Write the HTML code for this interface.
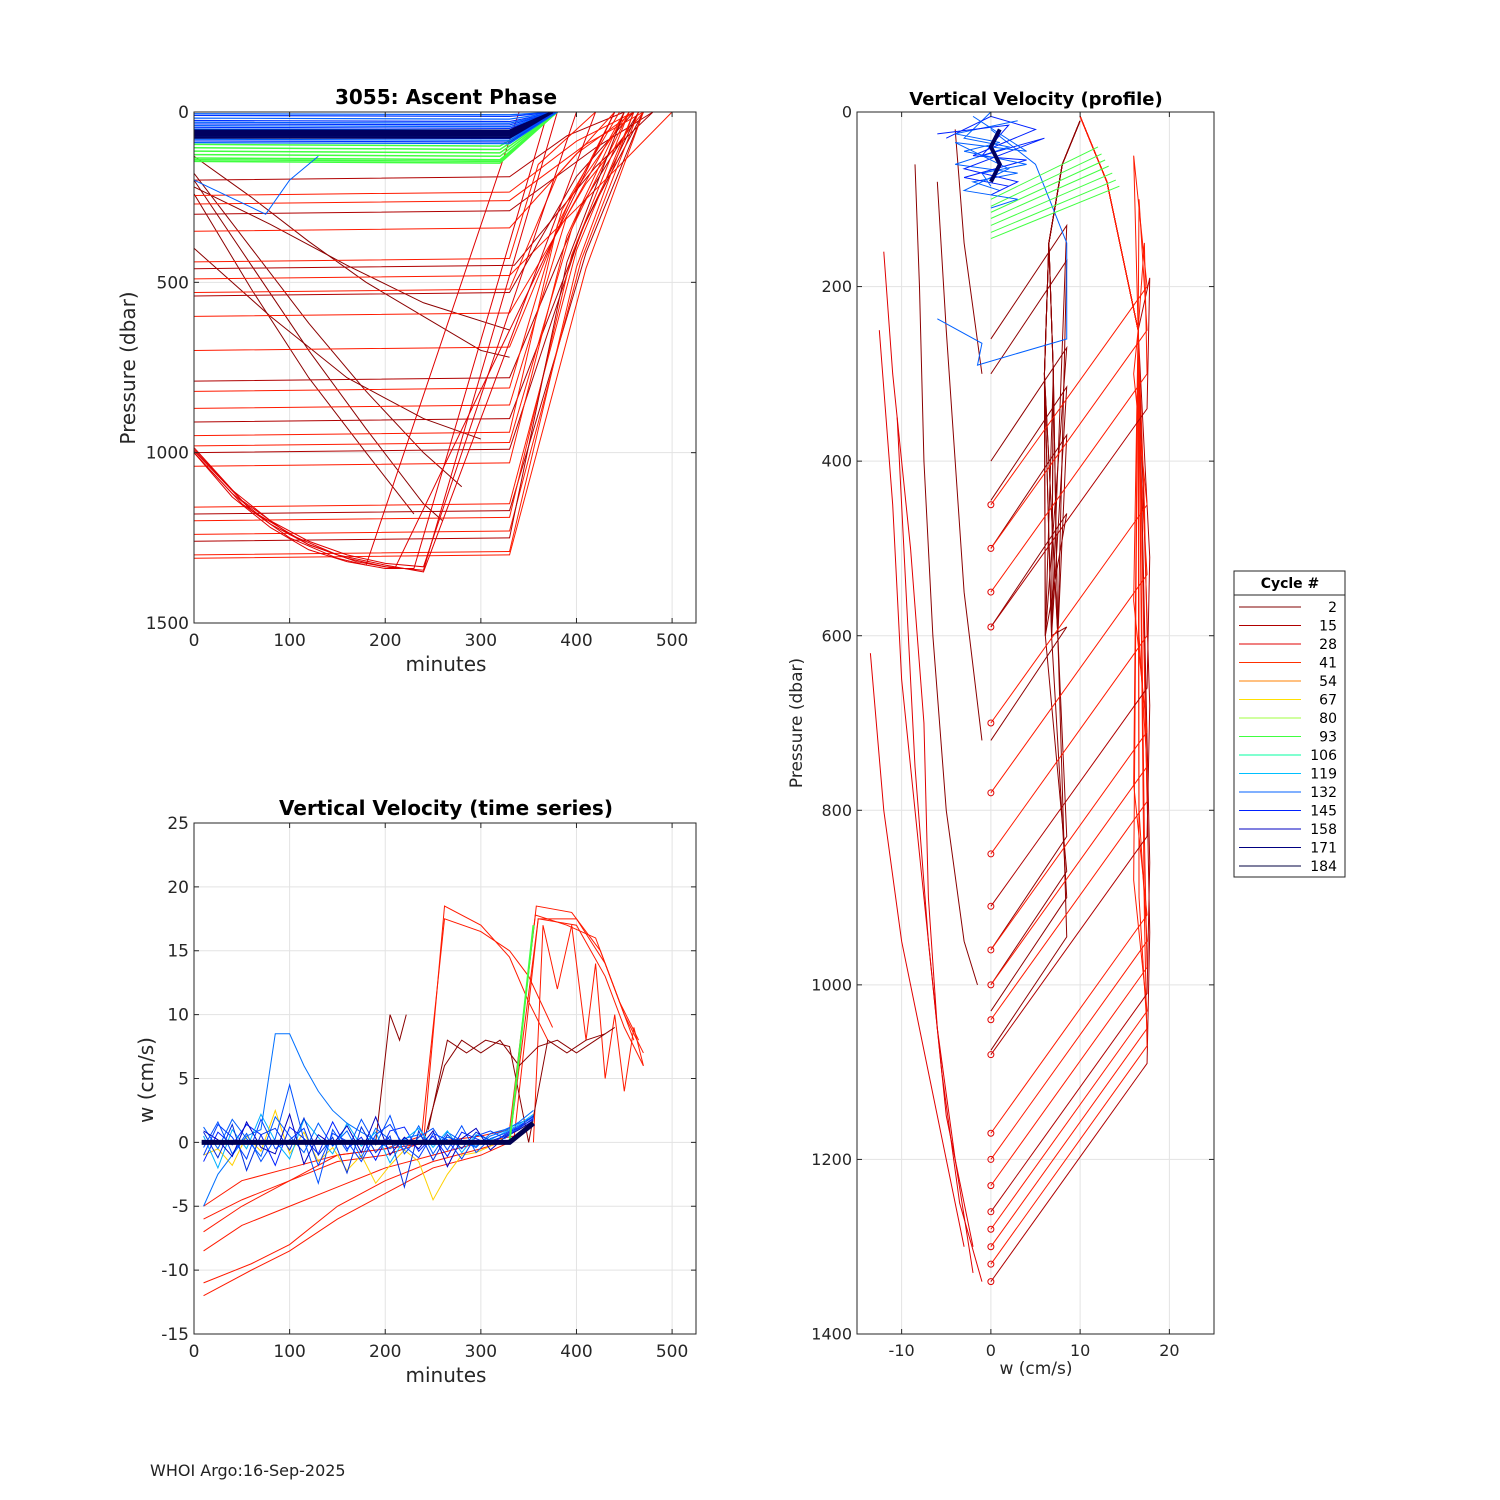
<!DOCTYPE html>
<html><head><meta charset="utf-8"><style>
body{margin:0;background:#fff;}
svg{display:block;font-family:"DejaVu Sans","Liberation Sans",sans-serif;}
</style></head><body>
<svg id="fig" width="1500" height="1500" viewBox="0 0 1500 1500">
<rect width="1500" height="1500" fill="#fff"/>
<g id="tl"></g>
<g id="bl"></g>
<g id="rp"></g>
<g id="lg"></g>
<text x="150" y="1476" font-size="16" fill="#222">WHOI Argo:16-Sep-2025</text>
</svg>
<script>
// ---- shared data ----
const legendCycles = ["2","15","28","41","54","67","80","93","106","119","132","145","158","171","184"];
const legendColors = ["#800000","#b00000","#e00000","#ff3000","#ff8000","#ffe000","#a0ff40","#40ff40","#00ffa0","#00c0ff","#0060ff","#0020ff","#0000c0","#000080","#000040"];

// ---- top-left: ascent phase ----
const tlXTicks = [0,100,200,300,400,500];
const tlYTicks = [0,500,1000,1500];
const tlParkP = [200,245,270,300,350,440,460,490,530,540,600,700,790,820,870,910,950,980,1000,1040,1160,1180,1200,1240,1260,1300,1310];
const tlParkEnd = [330,330,330,330,330,330,335,330,330,330,330,330,330,330,330,330,330,330,330,330,330,330,330,330,330,330,330];
const tlSurfT = [450,460,470,480,460,420,480,500,440,460,470,455,465,445,450,470,440,455,465,450,460,470,455,465,450,460,470];
const tlDeep = [
 [[0,1000],[40,1120],[80,1210],[120,1270],[160,1310],[200,1335],[240,1345],[380,0]],
 [[0,990],[40,1110],[80,1200],[120,1260],[160,1300],[200,1325],[240,1335],[400,0]],
 [[0,1000],[40,1130],[80,1220],[120,1285],[160,1320],[200,1340],[230,1340],[370,0]],
 [[0,985],[50,1140],[100,1240],[150,1300],[200,1330],[240,1350],[420,0]],
 [[0,1000],[50,1150],[100,1250],[150,1310],[180,1330],[340,0]],
 [[0,995],[60,1170],[120,1270],[170,1320],[210,1340],[440,0]]
];
const tlDesc = [
 [[0,130],[60,250],[120,380],[180,500],[240,600],[300,700],[330,720]],
 [[0,180],[60,400],[120,620],[180,820],[240,1000],[280,1100]],
 [[0,200],[60,450],[120,700],[180,930],[240,1150],[260,1200]],
 [[0,220],[80,330],[160,450],[240,560],[330,640]],
 [[0,240],[60,520],[120,780],[180,1000],[230,1180]],
 [[0,400],[80,600],[160,780],[240,900],[300,960]]
];
const tlBlueP = [5,10,18,25,30,35,40,45,50,55,60,65,70,75,80,85,90];
const tlGreenP = [95,105,115,125,135,140,145];
const tlDarkP = [55,62,68,75];

// ---- bottom-left: time series ----
const blXTicks = [0,100,200,300,400,500];
const blYTicks = [25,20,15,10,5,0,-5,-10,-15];
const blT = [10,25,40,55,70,85,100,115,130,145,160,175,190,205,220,235,250,265,280,295,310,325,340,355];
const blNoise = [
 [1.2,-0.5,1.8,0.3,-1.1,2.0,0.5,-0.8,1.5,-0.3,0.9,-1.2,1.1,0.2,-0.6,1.3,-0.9,0.8,0.1,-0.4,0.7,1.0,1.5,2.0],
 [-1.5,0.8,-0.2,1.4,0.6,-1.8,1.2,0.3,-0.9,1.6,-0.5,0.4,-1.4,0.9,1.2,-0.7,0.5,-1.1,0.8,0.3,-0.2,0.6,1.2,1.8],
 [0.5,-2.0,1.0,-0.5,2.2,0.1,-1.3,1.8,0.4,-0.9,1.5,-0.3,0.8,-1.6,0.2,1.1,-0.4,0.9,-0.8,0.6,0.2,0.8,1.4,2.2],
 [-5.0,-2.5,-1.0,0.5,1.0,8.5,8.5,6.0,4.0,2.5,1.5,0.8,0.2,-0.5,0.3,0.6,-0.2,0.4,0.1,-0.3,0.5,0.9,1.6,2.5],
 [0.8,-1.2,1.4,-2.2,0.6,1.1,-0.6,1.9,-1.0,0.4,-2.4,1.2,-0.8,0.5,-3.5,0.9,-1.4,0.6,-0.5,0.8,0.1,0.5,1.1,1.9],
 [-0.4,1.6,-0.9,0.7,-1.5,0.3,4.5,0.2,-3.2,1.0,-0.7,1.8,-0.2,2.1,-0.9,0.4,1.1,-0.6,1.3,-0.8,0.3,0.7,1.3,2.0],
 [0.9,0.2,-1.1,1.6,-0.4,-0.9,2.2,-1.7,0.6,-0.2,1.3,-0.8,2.0,-1.0,0.4,-0.5,0.9,-1.9,0.3,1.1,-0.6,0.4,1.0,1.7],
 [-1.0,1.4,0.4,-1.3,1.8,-0.5,0.2,1.1,-1.8,0.7,0.1,-1.5,0.6,1.4,-0.3,-1.2,0.7,0.2,-1.3,0.5,0.9,0.3,1.2,2.1]
];
const blYellow = [-1.0,-0.5,-1.8,0.5,-0.7,2.5,-0.9,0.8,-1.5,-0.4,-2.2,-1.0,-3.2,-1.8,-0.6,-1.5,-4.5,-2.5,-1.0,-0.8,-0.3,0.4,1.0,1.6];
const blRed = [
 [[10,-12],[60,-10],[100,-8.5],[150,-6],[200,-4],[250,-2],[300,-1],[330,0],[360,17.5],[400,17.5],[430,14],[450,10],[470,7]],
 [[10,-11],[60,-9.5],[100,-8],[150,-5],[200,-3],[250,-1.5],[300,-0.5],[330,0.2],[358,18.5],[395,18],[425,15],[445,11],[465,8]],
 [[10,-7],[50,-5],[100,-3],[150,-1.5],[200,-1],[240,0],[262,18.5],[300,17],[330,14.5],[350,11],[370,8]],
 [[10,-6],[50,-4.5],[100,-3],[150,-1],[200,-0.5],[238,0.5],[262,17.5],[300,16.5],[330,15],[350,13],[375,9]],
 [[10,-8.5],[50,-6.5],[100,-5],[150,-3.5],[200,-2],[250,-1],[300,0],[335,0.5],[360,17.5],[400,17],[430,13],[450,9],[470,6]],
 [[10,-5],[50,-3],[100,-2],[150,-1],[200,-0.5],[250,0],[300,0.5],[330,1],[357,17.8],[390,17],[420,16],[440,12],[460,8]],
 [[355,0],[365,17],[380,12],[395,17],[410,8],[420,14],[430,5],[440,10],[450,4],[460,9],[470,6]]
];
const blDark = [
 [[240,0],[262,6],[280,8],[300,7],[320,8],[340,6],[360,7.5],[380,8],[400,7],[420,8],[440,9]],
 [[190,0],[205,10],[215,8],[222,10]],
 [[245,1],[265,8],[285,7],[305,8],[330,7.5],[350,0],[370,8],[390,7],[410,8],[430,8.5]]
];

// ---- right: profile ----
const rpXTicks = [-10,0,10,20];
const rpYTicks = [0,200,400,600,800,1000,1200,1400];
const rpParkP = [1340,1320,1300,1280,1260,1230,1200,1170,1080,1040,1000,960,910,850,780,700,590,550,500,450];
const rpDarkP = [1075,1030,1000,960,720,590,500,445,400,300,260];
const rpDesc = [
 [[-12,160],[-11,300],[-9,500],[-7.5,700],[-7,900],[-6,1050],[-4,1200],[-2,1330]],
 [[-12.5,250],[-11,450],[-10,650],[-8,850],[-6.5,1000],[-5,1150],[-2,1300]],
 [[-10.5,350],[-9.5,550],[-8.5,750],[-7,950],[-5.5,1100],[-3.5,1250],[-1,1340]],
 [[-13.5,620],[-12,800],[-10,950],[-8,1050],[-6,1150],[-3,1300]],
 [[-8.5,60],[-8,200],[-7.5,400],[-6.5,600],[-5,800],[-3,950],[-1.5,1000]],
 [[-6,80],[-5,250],[-4,400],[-3,550],[-1,720]],
 [[-4,20],[-3,150],[-1,300]]
];
const rpGreenP = [100,108,115,122,130,138,145];
const rpBlue = [
 [[0,0],[-3,30],[2,40],[-4,60],[3,70],[-2,80],[1,90]],
 [[-5,30],[0,5],[5,20],[-2,50],[4,55],[-3,75],[2,85]],
 [[3,10],[-4,25],[1,35],[-3,45],[4,60],[-1,70],[0,85]],
 [[-6,25],[2,15],[-1,50],[6,30],[-3,65],[3,80],[0,95]],
 [[-2,5],[4,45],[-4,35],[2,65],[-3,90],[3,100],[0,110]]
];

function mk(parent,tag,attrs){const e=document.createElementNS("http://www.w3.org/2000/svg",tag);for(const k in attrs)e.setAttribute(k,attrs[k]);parent.appendChild(e);return e;}

function axes(g,x0,y0,w,h,xt,xs,yt,ys,fs,name){
  mk(g,"rect",{x:x0,y:y0,width:w,height:h,fill:"#fff"});
  const grid=mk(g,"g",{});
  
  
  xt.forEach(v=>{const X=xs(v);mk(grid,"line",{x1:X,x2:X,y1:y0,y2:y0+h,stroke:"#e3e3e3"});
    const t=mk(g,"text",{x:X,y:y0+h+fs+6,"font-size":fs,"text-anchor":"middle",fill:"#262626"});t.textContent=v;
    
    
  });
  yt.forEach(v=>{const Y=ys(v);mk(grid,"line",{x1:x0,x2:x0+w,y1:Y,y2:Y,stroke:"#e3e3e3"});
    const t=mk(g,"text",{x:x0-5,y:Y+fs*0.35,"font-size":fs,"text-anchor":"end",fill:"#262626"});t.textContent=v;
    
    
  });
}
function frame(g,x0,y0,w,h,xt,xs,yt,ys){
  mk(g,"rect",{x:x0,y:y0,width:w,height:h,fill:"none",stroke:"#262626","stroke-width":1});
  xt.forEach(v=>{const X=xs(v);mk(g,"line",{x1:X,x2:X,y1:y0+h,y2:y0+h-5,stroke:"#262626"});mk(g,"line",{x1:X,x2:X,y1:y0,y2:y0+5,stroke:"#262626"});});
  yt.forEach(v=>{const Y=ys(v);mk(g,"line",{x1:x0,x2:x0+5,y1:Y,y2:Y,stroke:"#262626"});mk(g,"line",{x1:x0+w,x2:x0+w-5,y1:Y,y2:Y,stroke:"#262626"});});
}
function poly(g,pts,color,sw,name){const p=mk(g,"polyline",{points:pts.map(q=>q.join(",")).join(" "),fill:"none",stroke:color,"stroke-width":sw||1});
  
  
  return p;}
function label(g,x,y,txt,fs,bold,rot,name){const t=mk(g,"text",{x:x,y:y,"font-size":fs,"text-anchor":"middle",fill:bold?"#000":"#262626","font-weight":bold?"bold":"normal"});
  if(rot)t.setAttribute("transform","rotate(-90 "+x+" "+y+")");t.textContent=txt;
  
  }

// ---- draw top-left ----
(function(){
  const g=document.getElementById("tl");const X0=194,Y0=112,W=502,H=511;
  const xs=t=>X0+t*W/525, ys=p=>Y0+p*H/1500;
  axes(g,X0,Y0,W,H,tlXTicks,xs,tlYTicks,ys,17,"ascent");
  const clip=mk(g,"clipPath",{id:"ctl"});mk(clip,"rect",{x:X0,y:Y0,width:W,height:H});
  const d=mk(g,"g",{"clip-path":"url(#ctl)"});
  tlDesc.forEach(s=>poly(d,s.map(q=>[xs(q[0]),ys(q[1])]),"#8b0000",1,"descent-line"));
  tlParkP.forEach((p,i)=>poly(d,[[xs(0),ys(p)],[xs(tlParkEnd[i]),ys(p-10)],[xs(tlSurfT[i]-60),ys(p*0.35)],[xs(tlSurfT[i]),ys(0)]],i%3==0?"#b00000":"#ff1a00",1,"park-ascent-line"));
  tlDeep.forEach(s=>poly(d,s.map(q=>[xs(q[0]),ys(q[1])]),"#e00000",1,"deep-profile-line"));
  tlGreenP.forEach(p=>poly(d,[[xs(0),ys(p)],[xs(320),ys(p+5)],[xs(380),ys(0)]],"#40ff40",1.5,"green-cycle-line"));
  tlBlueP.forEach((p,i)=>poly(d,[[xs(0),ys(p)],[xs(330),ys(p+3)],[xs(380),ys(0)]],i%2?"#0030ff":"#0060ff",1.2,"blue-cycle-line"));
  tlDarkP.forEach(p=>poly(d,[[xs(0),ys(p)],[xs(330),ys(p)],[xs(375),ys(0)]],"#000060",2.5,"dark-cycle-line"));
  poly(d,[[xs(0),ys(200)],[xs(75),ys(300)],[xs(100),ys(200)],[xs(130),ys(130)]],"#0060ff",1,"blue-outlier-line");
  frame(g,X0,Y0,W,H,tlXTicks,xs,tlYTicks,ys);
  label(g,446,104,"3055: Ascent Phase",20,true,false,"ascent-title");
  label(g,446,671,"minutes",20,false,false,"ascent-x-title");
  label(g,135,368,"Pressure (dbar)",20,false,true,"ascent-y-title");
})();

// ---- draw bottom-left ----
(function(){
  const g=document.getElementById("bl");const X0=194,Y0=823,W=502,H=511;
  const xs=t=>X0+t*W/525, ys=w=>Y0+(25-w)*H/40;
  axes(g,X0,Y0,W,H,blXTicks,xs,blYTicks,ys,17,"timeseries");
  const clip=mk(g,"clipPath",{id:"cbl"});mk(clip,"rect",{x:X0,y:Y0,width:W,height:H});
  const d=mk(g,"g",{"clip-path":"url(#cbl)"});
  blRed.forEach(s=>poly(d,s.map(q=>[xs(q[0]),ys(q[1])]),"#ff1a00",1,"red-velocity-line"));
  blDark.forEach(s=>poly(d,s.map(q=>[xs(q[0]),ys(q[1])]),"#8b0000",1,"darkred-velocity-line"));
  poly(d,blT.map((t,i)=>[xs(t),ys(blYellow[i])]),"#ffd000",1,"yellow-velocity-line");
  blNoise.forEach((s,k)=>poly(d,blT.map((t,i)=>[xs(t),ys(s[i])]),["#0060ff","#0020ff","#00b0ff","#0070ff","#0030e0","#0050ff","#0000c0","#0040ff"][k],1,"blue-velocity-line"));
  poly(d,[[xs(330),ys(0)],[xs(355),ys(17)]],"#40ff40",2,"green-velocity-line");
  poly(d,[[xs(8),ys(0)],[xs(330),ys(0)],[xs(355),ys(1.5)]],"#000050",5,"dark-velocity-band");
  frame(g,X0,Y0,W,H,blXTicks,xs,blYTicks,ys);
  label(g,446,815,"Vertical Velocity (time series)",20,true,false,"timeseries-title");
  label(g,446,1382,"minutes",20,false,false,"timeseries-x-title");
  label(g,153,1080,"w (cm/s)",20,false,true,"timeseries-y-title");
})();

// ---- draw right ----
(function(){
  const g=document.getElementById("rp");const X0=857,Y0=112,W=357,H=1222;
  const xs=w=>X0+(w+15)*W/40, ys=p=>Y0+p*H/1400;
  axes(g,X0,Y0,W,H,rpXTicks,xs,rpYTicks,ys,16,"profile");
  const clip=mk(g,"clipPath",{id:"crp"});mk(clip,"rect",{x:X0,y:Y0,width:W,height:H});
  const d=mk(g,"g",{"clip-path":"url(#crp)"});
  rpDesc.forEach((s,i)=>poly(d,s.map(q=>[xs(q[0]),ys(q[1])]),i<4?"#e00000":"#8b0000",1,"descent-velocity-line"));
  rpDarkP.forEach((p,i)=>poly(d,[[xs(0),ys(p)],[xs(8.5),ys(p-130)],[xs(7.5-(i%3)*0.7),ys(600)],[xs(6+(i%2)),ys(300)],[xs(6.5),ys(150)],[xs(8),ys(60)],[xs(10),ys(10)]],"#900000",1,"darkred-profile-line"));
  rpParkP.forEach((p,i)=>poly(d,[[xs(0),ys(p)],[xs(17.5),ys(p-250)],[xs(17.8-(i%4)*0.6),ys(p-400)],[xs(16.5),ys(250)],[xs(13),ys(80)],[xs(10),ys(5)]],i%4==0?"#b00000":"#ff1a00",1,"ascent-velocity-line"));
  rpParkP.forEach(p=>{const c=mk(d,"circle",{cx:xs(0),cy:ys(p),r:3,fill:"none",stroke:"#e00000"});
    
    });
  poly(d,[[xs(-6),ys(237)],[xs(-1),ys(265)],[xs(-1.5),ys(290)],[xs(8.5),ys(260)],[xs(8.5),ys(150)],[xs(5),ys(60)],[xs(0),ys(20)]],"#0060ff",1,"blue-outlier-profile");
  rpGreenP.forEach((p,i)=>poly(d,[[xs(0),ys(p)],[xs(12+i*0.4),ys(p-60)]],"#40ff40",1,"green-profile-line"));
  rpBlue.forEach((s,i)=>poly(d,s.map(q=>[xs(q[0]),ys(q[1])]),i%2?"#0020ff":"#0060ff",1,"blue-profile-line"));
  poly(d,[[xs(1),ys(20)],[xs(0),ys(40)],[xs(1),ys(60)],[xs(0),ys(80)]],"#000060",4,"dark-profile-line");
  frame(g,X0,Y0,W,H,rpXTicks,xs,rpYTicks,ys);
  label(g,1036,105,"Vertical Velocity (profile)",18,true,false,"profile-title");
  label(g,1036,1374,"w (cm/s)",17,false,false,"profile-x-title");
  label(g,802,723,"Pressure (dbar)",17,false,true,"profile-y-title");
})();

// ---- legend ----
(function(){
  const g=document.getElementById("lg");
  mk(g,"rect",{x:1234,y:571,width:111,height:306,fill:"#fff",stroke:"#262626"});
  mk(g,"line",{x1:1234,x2:1345,y1:595,y2:595,stroke:"#262626"});
  label(g,1290,588,"Cycle #",14,true,false,"legend-title");
  legendCycles.forEach((c,i)=>{const y=607+i*18.5;
    const l=mk(g,"line",{x1:1239,x2:1301,y1:y,y2:y,stroke:legendColors[i]});
    
    
    const t=mk(g,"text",{x:1337,y:y+5,"font-size":14,"text-anchor":"end",fill:"#000"});t.textContent=c;
    
    
  });
})();
</script>
</body></html>
